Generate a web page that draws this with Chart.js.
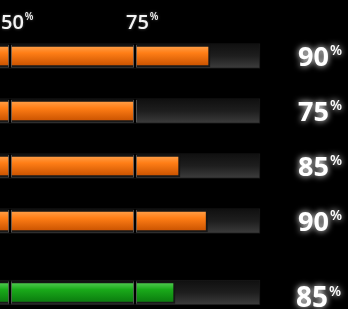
<!DOCTYPE html>
<html>
<head>
<meta charset="utf-8">
<script src="https://cdn.jsdelivr.net/npm/chart.js@4"></script>
<style>
  html, body { margin: 0; padding: 0; background: #000; }
  #wrap { width: 348px; height: 309px; }
</style>
</head>
<body>
<div id="wrap"><canvas id="c"></canvas></div>
<script>
// values
const rowNames  = ['Row 1', 'Row 2', 'Row 3', 'Row 4', 'Total'];
const rowIndex  = [0, 1, 2, 3, 4.3];          // last row sits a bit apart
const barValues = [90, 75, 84, 89.5, 83];
const valueLabels = ['90', '75', '85', '90', '85'];
const trackMax  = [100, 100, 100, 100, 100];
const tickValues = [0, 25, 50, 75];

const orange = ['#ffa04a', '#ff7e16', '#c95200'];
const green  = ['#52cc52', '#1aaa1a', '#0a7a0e'];

function rowPx(chart, i) {
  return chart.scales.y.getPixelForValue(rowIndex[i]);
}

function fillGradient(ctx) {
  const chart = ctx.chart;
  if (!chart.chartArea || ctx.dataIndex === undefined) return orange[1];
  const yc = rowPx(chart, ctx.dataIndex);
  const pal = ctx.dataIndex === 4 ? green : orange;
  const g = chart.ctx.createLinearGradient(0, yc - 10, 0, yc + 10);
  g.addColorStop(0, pal[0]);
  g.addColorStop(0.35, pal[1]);
  g.addColorStop(1, pal[2]);
  return g;
}

function trackGradient(ctx) {
  const chart = ctx.chart;
  if (!chart.chartArea || ctx.dataIndex === undefined) return '#222';
  const yc = rowPx(chart, ctx.dataIndex);
  const g = chart.ctx.createLinearGradient(0, yc - 12, 0, yc + 12);
  g.addColorStop(0, '#101010');
  g.addColorStop(0.5, '#1e1e1e');
  g.addColorStop(1, '#3c3c3c');
  return g;
}

// black grid lines over the bars, top tick labels, right value labels
const decor = {
  id: 'decor',
  afterDatasetsDraw(chart) {
    const c = chart.ctx;
    const x = chart.scales.x;
    c.save();
    tickValues.forEach(function(t) {
      const px = x.getPixelForValue(t);
      for (let i = 0; i < rowIndex.length; i++) {
        const yc = rowPx(chart, i);
        c.fillStyle = 'rgba(90,90,90,0.8)';
        c.fillRect(px - 2, yc - 11, 4, 22);
        c.fillStyle = '#000';
        c.fillRect(px - 1, yc - 12, 2, 24);
      }
      // tick label
      c.shadowColor = 'rgba(255,255,255,0.35)';
      c.shadowBlur = 3;
      c.fillStyle = '#f4f4f4';
      c.textBaseline = 'alphabetic';
      c.textAlign = 'left';
      c.font = '600 20px "Open Sans"';
      const s = String(t);
      const left = px - 9;
      c.fillText(s, left, 29);
      const w = c.measureText(s).width;
      c.font = '600 10px "Open Sans"';
      c.fillText('%', left + w + 1, 20);
      c.shadowBlur = 0;
    });

    // value labels on the right
    c.fillStyle = '#fff';
    c.shadowColor = 'rgba(255,255,255,1)';
    c.shadowBlur = 6;
    for (let i = 0; i < valueLabels.length; i++) {
      const yc = rowPx(chart, i);
      const big = i === 4;
      const fs = big ? 28 : 27;
      c.font = 'bold ' + fs + 'px "Open Sans"';
      c.textAlign = 'left';
      const left = big ? 296 : 298;
      const base = yc + (big ? 15 : 10);
      c.fillText(valueLabels[i], left, base);
      const w = c.measureText(valueLabels[i]).width;
      c.font = '600 14px "Open Sans"';
      c.fillText('%', left + w + 1, base - 11);
    }
    c.restore();
  }
};

new Chart(document.getElementById('c'), {
  type: 'bar',
  data: {
    labels: rowNames,
    datasets: [{
      label: 'value',
      data: barValues.map(function(v, i) { return { x: v, y: rowIndex[i] }; }),
      backgroundColor: fillGradient,
      borderColor: 'rgba(20,20,20,0.85)',
      borderWidth: 2,
      borderSkipped: false,
      barThickness: 22,
      grouped: false
    }, {
      label: 'track',
      data: trackMax.map(function(v, i) { return { x: v, y: rowIndex[i] }; }),
      backgroundColor: trackGradient,
      borderColor: '#161616',
      borderWidth: 1,
      borderSkipped: false,
      barThickness: 25,
      grouped: false
    }]
  },
  options: {
    indexAxis: 'y',
    responsive: true,
    maintainAspectRatio: false,
    animation: false,
    layout: { padding: 0 },
    plugins: {
      legend: { display: false },
      tooltip: { enabled: false }
    },
    scales: {
      x: { type: 'linear', min: 48, max: 117.6, display: false, offset: false },
      y: { type: 'linear', min: -1.018, max: 4.6, reverse: true, display: false, offset: false }
    }
  },
  plugins: [decor]
});
</script>
</body>
</html>
